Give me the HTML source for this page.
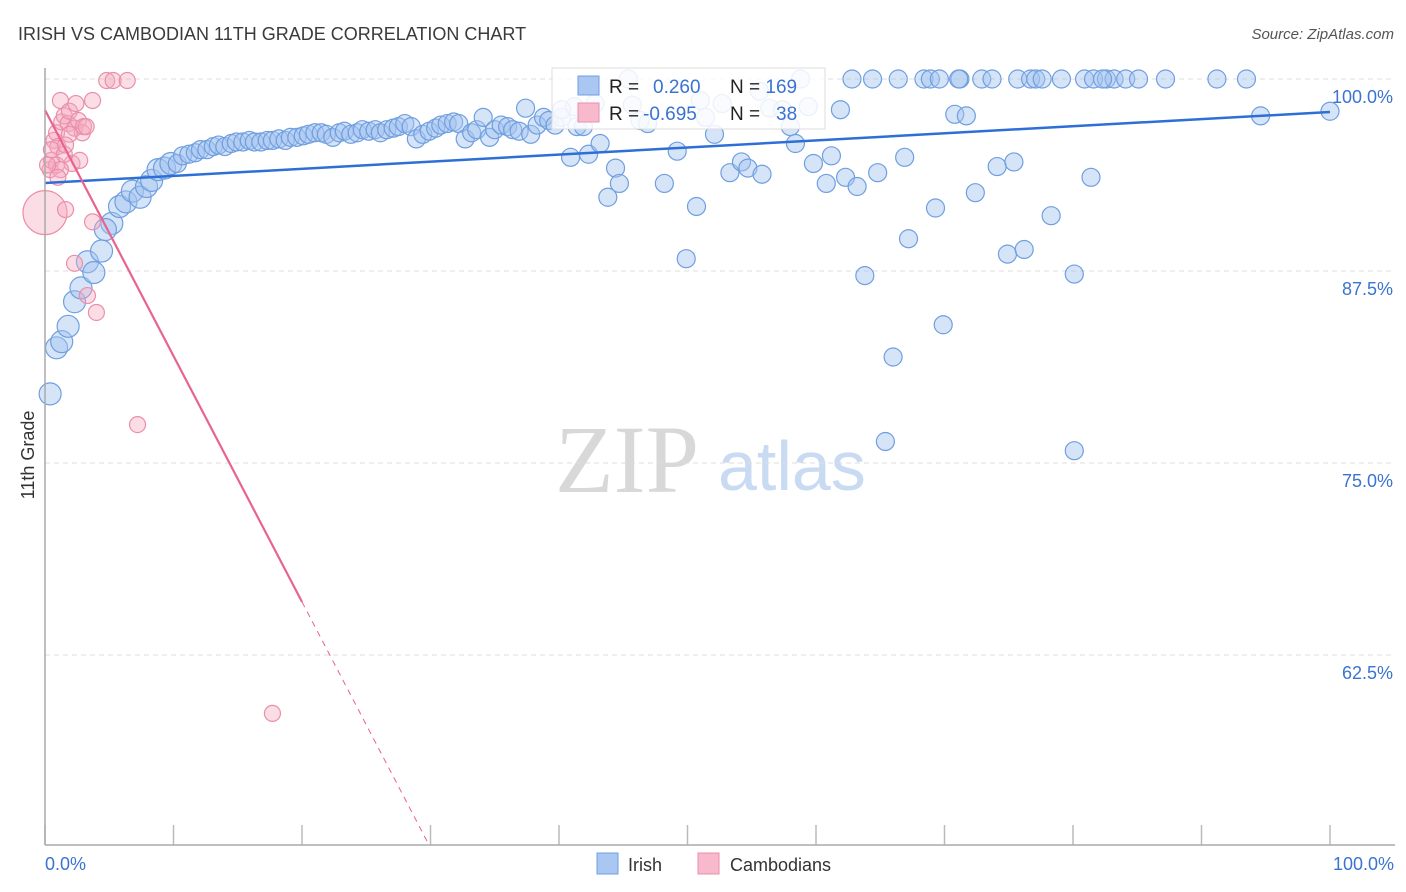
<!DOCTYPE html>
<html><head><meta charset="utf-8"><style>
body{margin:0;background:#fff;font-family:"Liberation Sans",sans-serif}
#wrap{position:relative;width:1406px;height:892px;overflow:hidden}
</style></head><body>
<div id="wrap">
<svg id="svg" width="1406" height="892" xmlns="http://www.w3.org/2000/svg">
<text x="18" y="40" font-size="18" fill="#3a3a3a">IRISH VS CAMBODIAN 11TH GRADE CORRELATION CHART</text>
<text x="1394" y="39" font-size="15" fill="#555" font-style="italic" text-anchor="end">Source: ZipAtlas.com</text>
<text x="555" y="492" font-family="Liberation Serif,serif" font-size="96" fill="#d8d8d8">ZIP</text>
<text x="718" y="490" font-size="70" fill="#c9daf3">atlas</text>
<text transform="translate(34,455) rotate(-90)" font-size="18" fill="#333" text-anchor="middle">11th Grade</text>
<g id="grid"></g><g id="pts"></g><g id="lines"></g>
<line x1="45" y1="68" x2="45" y2="845" stroke="#aaa" stroke-width="1.5"/>
<line x1="45" y1="845" x2="1395" y2="845" stroke="#aaa" stroke-width="1.5"/>
<text x="45" y="870" font-size="18" fill="#3b73d1">0.0%</text>
<text x="1394" y="870" font-size="18" fill="#3b73d1" text-anchor="end">100.0%</text>
<g>
<rect x="552" y="68" width="273" height="61" fill="#fff" fill-opacity="0.85" stroke="#ddd"/>
<rect x="578" y="76" width="21" height="19" fill="#a9c7f1" stroke="#6f9fe0"/>
<rect x="578" y="103" width="21" height="19" fill="#f7b9cb" stroke="#ea8fab"/>
<text x="609" y="93" font-size="19" fill="#222">R = <tspan fill="#3b73d1" x="653">0.260</tspan></text>
<text x="730" y="93" font-size="19" fill="#222">N = <tspan fill="#3b73d1">169</tspan></text>
<text x="609" y="120" font-size="19" fill="#222">R = <tspan fill="#3b73d1" x="643">-0.695</tspan></text>
<text x="730" y="120" font-size="19" fill="#222">N = <tspan fill="#3b73d1" x="776">38</tspan></text>
</g>
<g>
<rect x="597" y="853" width="21" height="21" fill="#a9c7f1" stroke="#6f9fe0"/>
<text x="628" y="871" font-size="18" fill="#333">Irish</text>
<rect x="698" y="853" width="21" height="21" fill="#f7b9cb" stroke="#ea8fab"/>
<text x="730" y="871" font-size="18" fill="#333">Cambodians</text>
</g>
</svg>
</div>
<script>
const yTicks=[100,87.5,75,62.5];
const yTickLabels=["100.0%","87.5%","75.0%","62.5%"];
const xTicks=[0,10,20,30,40,50,60,70,80,90,100];
const irishX=[0.4,0.9,1.3,1.8,2.3,2.8,3.3,3.8,4.4,5.2,4.7,5.8,6.3,6.8,7.4,7.9,8.3,8.8,9.3,9.8,10.3,10.7,11.2,11.7,12.1,12.6,13.1,13.5,14.0,14.5,14.9,15.4,15.9,16.3,16.8,17.3,17.7,18.2,18.7,19.1,19.6,20.1,20.5,21.0,21.5,21.9,22.4,22.9,23.3,23.8,24.3,24.7,25.2,25.7,26.1,26.6,27.1,27.5,28.0,28.5,28.9,29.4,29.9,30.4,30.8,31.3,31.8,32.2,32.7,33.2,33.6,34.1,34.6,35.0,35.5,36.0,36.4,36.9,37.4,37.8,38.3,38.8,39.2,39.7,40.2,40.9,41.4,41.9,42.3,43.2,43.8,44.4,44.7,45.7,46.3,46.9,48.2,49.2,49.9,50.7,51.4,52.1,53.3,54.2,54.7,55.8,56.4,58.0,58.4,59.4,59.8,60.8,61.2,61.9,62.3,63.2,63.8,64.8,66.0,66.9,67.2,69.3,69.9,70.8,71.7,72.4,74.1,74.9,75.4,76.2,78.3,80.1,80.1,81.4,65.4,94.6,100,62.8,64.4,66.4,68.4,68.9,71.2,72.9,73.7,75.7,76.7,77.1,79.1,80.9,81.6,82.6,83.2,84.1,85.1,87.2,91.2,93.5,58.8,69.6,71.1,77.6,82.3,45.4,41.2,42.8,51.0,52.7,55.6,57.4,40.2];
const irishY=[79.5,82.5,82.9,83.9,85.5,86.4,88.1,87.4,88.8,90.6,90.2,91.7,92.0,92.7,92.3,93.0,93.4,94.1,94.2,94.5,94.5,95.0,95.1,95.2,95.4,95.4,95.6,95.7,95.6,95.8,95.9,95.9,96.0,95.9,95.9,96.0,96.0,96.1,96.0,96.2,96.2,96.3,96.4,96.5,96.5,96.4,96.2,96.5,96.6,96.4,96.5,96.7,96.6,96.7,96.5,96.7,96.8,96.9,97.1,96.9,96.1,96.4,96.6,96.8,97.0,97.1,97.2,97.1,96.1,96.5,96.7,97.5,96.2,96.7,97.0,96.9,96.7,96.6,98.1,96.4,97.0,97.5,97.3,97.0,97.5,94.9,96.9,96.9,95.1,95.8,92.3,94.2,93.2,98.3,97.3,97.1,93.2,95.3,88.3,91.7,97.5,96.4,93.9,94.6,94.2,93.8,98.1,96.9,95.8,98.2,94.5,93.2,95.0,98.0,93.6,93.0,87.2,93.9,81.9,94.9,89.6,91.6,84.0,97.7,97.6,92.6,94.3,88.6,94.6,88.9,91.1,87.3,75.8,93.6,76.4,97.6,97.9,100,100,100,100,100,100,100,100,100,100,100,100,100,100,100,100,100,100,100,100,100,100,100,100,100,100,100,98.2,98.4,98.6,98.4,99.2,98.0,98.0];
const cambX=[0,0.4,0.5,0.7,0.9,1.0,1.2,1.3,1.5,1.6,1.8,1.9,2.1,2.3,2.4,2.6,2.7,2.9,3.0,3.2,2.3,3.3,3.7,3.7,4.0,4.8,5.3,6.4,7.2,17.7,0.5,0.9,1.2,0.2,1.5,1.9,1.6,1.0];
const cambY=[91.3,94.1,94.7,96.0,96.5,95.6,98.6,97.2,97.6,91.5,97.1,97.9,94.5,96.8,98.4,97.3,94.7,96.5,96.9,96.9,88.0,85.9,98.6,90.7,84.8,99.9,99.9,99.9,77.5,58.7,95.4,94.4,94.1,94.4,95.1,96.4,95.7,93.6];
const irishTrend=[93.23,97.85];
const cambTrend=[97.98,-1.601];
const cambSolidEnd=20;

const X0=45,X1=1330,Y100=79,PXPER=15.36;
function sx(v){return X0+(X1-X0)*v/100;}
function sy(v){return Y100+(100-v)*PXPER;}
const NS="http://www.w3.org/2000/svg";
function mk(tag,parent,attrs){const e=document.createElementNS(NS,tag);for(const k in attrs)e.setAttribute(k,attrs[k]);parent.appendChild(e);return e;}
const grid=document.getElementById('grid'),pts=document.getElementById('pts'),lines=document.getElementById('lines');
yTicks.forEach((t,i)=>{
  const l=mk('line',grid,{x1:45,x2:1395,y1:sy(t),y2:sy(t),stroke:'#ddd','stroke-dasharray':'5,4'});
  
  
  const tx=mk('text',grid,{x:1393,y:sy(t)+24,'font-size':18,fill:'#3b73d1','text-anchor':'end'});
  tx.textContent=yTickLabels[i];
  
  
});
xTicks.forEach(t=>{
  const l=mk('line',grid,{x1:sx(t),x2:sx(t),y1:825,y2:845,stroke:'#bbb','stroke-width':1.5});
  
  
});
irishX.forEach((x,i)=>{
  const c=mk('circle',pts,{cx:sx(x),cy:sy(irishY[i]),r:x<10?11:9,fill:'rgba(164,196,240,0.45)',stroke:'#6f9fe0','stroke-width':1.2});
  
  
});
cambX.forEach((x,i)=>{
  const c=mk('circle',pts,{cx:sx(x),cy:sy(cambY[i]),r:i===0?22:8,fill:'rgba(244,170,190,0.4)',stroke:'#ea8fab','stroke-width':1.2});
  
  
});
const bl=mk('line',lines,{x1:sx(0),y1:sy(irishTrend[0]),x2:sx(100),y2:sy(irishTrend[1]),stroke:'#2d6fd6','stroke-width':2.5});


const cy=x=>cambTrend[0]+cambTrend[1]*x;
const pl=mk('line',lines,{x1:sx(0),y1:sy(cy(0)),x2:sx(cambSolidEnd),y2:sy(cy(cambSolidEnd)),stroke:'#e8648f','stroke-width':2.2});


const xEnd=(cambTrend[0]-50.1)/(-cambTrend[1]);
const pd=mk('line',lines,{x1:sx(cambSolidEnd),y1:sy(cy(cambSolidEnd)),x2:sx(xEnd),y2:sy(cy(xEnd)),stroke:'#e8648f','stroke-width':1,'stroke-dasharray':'6,5'});


</script>
</body></html>
